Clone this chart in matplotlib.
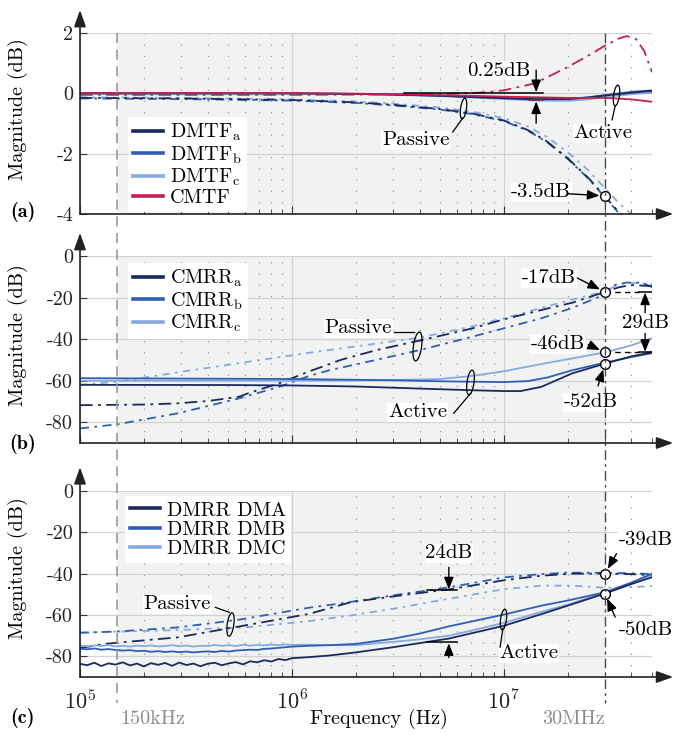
import numpy as np
import matplotlib
matplotlib.use("Agg")
import matplotlib.pyplot as plt
from matplotlib.lines import Line2D
from matplotlib.path import Path
from matplotlib.transforms import Affine2D, blended_transform_factory
from matplotlib.ticker import LogLocator, NullFormatter, FixedLocator

plt.rcParams.update({
    "font.family": "cmr10",
    "mathtext.fontset": "cm",
    "axes.unicode_minus": False,
    "font.size": 14.5,
})

# ---------------- data ----------------
# panel (a): transfer functions (dB)
fa_act = [1e5, 1e6, 2e6, 3e6, 5e6, 7e6, 1e7, 1.4e7, 2e7, 2.5e7, 3e7, 4e7, 5e7]
dmtf_a_act = [0.0, 0.0, -0.02, -0.04, -0.08, -0.12, -0.16, -0.19, -0.19, -0.14, -0.07, 0.02, 0.08]
dmtf_b_act = [0.0, 0.0, -0.02, -0.04, -0.08, -0.12, -0.16, -0.20, -0.19, -0.13, -0.06, 0.05, 0.10]
dmtf_c_act = [0.0, 0.0, -0.02, -0.05, -0.09, -0.14, -0.19, -0.24, -0.25, -0.20, -0.12, -0.03, 0.02]
cmtf_act = [0.0, 0.0, -0.01, -0.03, -0.06, -0.08, -0.11, -0.13, -0.15, -0.15, -0.15, -0.20, -0.28]

fa_pas = [1e5, 3e5, 1e6, 2e6, 3e6, 5e6, 7e6, 1e7, 1.3e7, 1.6e7, 2e7, 2.5e7, 3e7, 3.5e7, 4e7, 4.5e7]
dmtf_a_pas = [-0.15, -0.17, -0.22, -0.30, -0.38, -0.52, -0.66, -0.90, -1.22, -1.60, -2.15, -2.80, -3.42, -3.95, -4.30, -4.60]
dmtf_b_pas = [-0.17, -0.19, -0.24, -0.32, -0.40, -0.54, -0.68, -0.92, -1.24, -1.62, -2.17, -2.82, -3.45, -3.98, -4.35, -4.60]
dmtf_c_pas = [-0.13, -0.15, -0.20, -0.27, -0.34, -0.47, -0.60, -0.82, -1.10, -1.45, -1.95, -2.55, -3.15, -3.65, -4.00, -4.30]
fa_cm_pas = [1e5, 1e6, 5e6, 8e6, 1e7, 1.4e7, 2e7, 2.5e7, 3e7, 3.5e7, 3.8e7, 4.2e7, 4.6e7, 5e7]
cmtf_pas = [-0.05, -0.05, -0.03, 0.03, 0.10, 0.33, 0.87, 1.25, 1.58, 1.82, 1.90, 1.80, 1.40, 0.70]

# panel (b): CMRR (dB)
fb_a_act = [1e5, 5e5, 1e6, 2e6, 4e6, 7e6, 1e7, 1.2e7, 1.5e7, 2.1e7, 3e7, 4e7, 5e7]
cmrr_a_act = [-62, -62.1, -62.3, -62.8, -63.8, -64.6, -65, -65, -63, -56.5, -51.8, -48.3, -46.3]
fb_b_act = [1e5, 1e6, 3e6, 5e6, 1e7, 1.3e7, 1.6e7, 2.1e7, 3e7, 4e7, 5e7]
cmrr_b_act = [-58.8, -59.2, -59.8, -60.3, -60.7, -60.2, -58.5, -55, -51.3, -48.6, -46.8]
fb_c_act = [1e5, 1e6, 3e6, 5e6, 7e6, 1e7, 1.5e7, 2.1e7, 3e7, 4e7, 5e7]
cmrr_c_act = [-60, -60, -59.7, -59.2, -57.8, -55.5, -52, -49.3, -46.4, -43, -39.5]

fb_a_pas = [1e5, 2e5, 2.9e5, 4e5, 5.6e5, 6.4e5, 8.7e5, 1.16e6, 1.7e6, 2.5e6, 4e6, 7e6, 1e7, 1.5e7, 2.1e7, 3e7, 3.5e7, 4e7, 5e7]
cmrr_a_pas = [-71.8, -71.5, -70.9, -69.8, -67.8, -65.6, -61.3, -56.2, -50, -45.3, -40.7, -35, -30.5, -26, -22.5, -17.3, -15, -14, -14.5]
fb_b_pas = [1e5, 1.5e5, 2.9e5, 5.6e5, 8.7e5, 1.2e6, 1.5e6, 2.5e6, 4e6, 7e6, 1.07e7, 1.5e7, 2.1e7, 3e7, 3.3e7, 3.8e7, 4.5e7, 5e7]
cmrr_b_pas = [-83, -81, -75.7, -68.6, -63, -57.8, -55, -50, -45.3, -39, -34, -30, -25, -18.5, -14, -12.8, -12.8, -15]
fb_c_pas = [1e5, 1.5e5, 2.9e5, 5.6e5, 1.2e6, 2e6, 4e6, 7e6, 1e7, 1.5e7, 2.1e7, 3e7, 3.5e7, 4e7, 5e7]
cmrr_c_pas = [-62, -60.5, -56, -51.6, -46.6, -43.5, -39.3, -34, -30, -25, -21, -17, -13.5, -13, -13.5]

# panel (c): DMRR (dB)
fc_act = [1.0e5, 1.08e5, 1.17e5, 1.26e5, 1.36e5, 1.47e5, 1.59e5, 1.72e5, 1.86e5, 2.0e5,
          2.16e5, 2.34e5, 2.52e5, 2.72e5, 2.94e5, 3.18e5, 3.43e5, 3.7e5, 4.0e5, 4.32e5,
          4.67e5, 5.04e5, 5.44e5, 5.88e5, 6.35e5, 6.86e5, 7.4e5, 8.0e5, 8.64e5, 9.33e5,
          1.0e6, 1.2e6, 1.5e6, 2e6, 3e6, 4e6, 5.5e6, 7e6, 1e7, 1.5e7, 2e7, 3e7, 4e7, 5e7]
dmrr_a_act = [-83.6, -84.3, -83.1, -84.7, -83.4, -84.0, -82.9, -84.4, -83.5, -84.9,
              -83.3, -84.1, -83.2, -84.6, -83.0, -84.2, -83.5, -84.8, -83.6, -83.1,
              -84.3, -83.4, -82.8, -83.9, -82.4, -82.9, -81.9, -82.5, -81.3, -81.8,
              -80.9, -80.4, -79.6, -78.1, -75.6, -73.6, -71.4, -68.9, -65.2, -59.6, -55.5, -49.6, -45.0, -41.7]
dmrr_b_act = [-76.3, -76.6, -76.2, -76.8, -76.5, -76.9, -77.2, -77.0, -77.5, -77.3,
              -77.8, -77.5, -77.9, -77.6, -78.0, -77.7, -78.1, -77.8, -77.6, -77.9,
              -77.4, -77.7, -77.2, -77.0, -76.8, -76.9, -76.4, -76.2, -75.9, -75.6,
              -75.3, -74.9, -74.6, -74.0, -71.5, -69.0, -65.5, -63.2, -59.8, -55.5, -53.0, -49.0, -44.3, -40.0]
dmrr_c_act = [-74.8, -75.1, -74.7, -75.0, -74.6, -75.2, -74.9, -75.3, -74.8, -75.1,
              -74.7, -75.2, -75.0, -74.6, -75.1, -74.8, -75.3, -74.9, -75.0, -74.5,
              -74.9, -74.6, -75.0, -74.4, -74.8, -74.5, -74.7, -74.3, -74.6, -74.2,
              -74.5, -74.4, -74.6, -74.6, -73.0, -71.8, -70.0, -67.6, -63.8, -58.5, -55.0, -49.2, -44.5, -40.5]

fc_a_pas = [1e5, 1.3e5, 2.9e5, 5.6e5, 1.2e6, 1.9e6, 3e6, 5.6e6, 1e7, 1.5e7, 2.1e7, 3e7, 4e7, 5e7]
dmrr_a_pas = [-76, -74, -70.8, -65.6, -59.5, -53.8, -51, -47.5, -43.2, -41, -40, -40, -40.2, -40.8]
fc_b_pas = [1e5, 1.5e5, 2.9e5, 5.6e5, 1.2e6, 1.7e6, 3e6, 5.6e6, 1e7, 1.5e7, 2e7, 3e7, 4e7, 5e7]
dmrr_b_pas = [-68.6, -68, -66, -62.3, -56.5, -54.4, -50.5, -46.5, -41.8, -40.2, -39.5, -39.6, -39.8, -40.2]
fc_c_pas = [1e5, 2.9e5, 6.4e5, 1.2e6, 1.9e6, 3e6, 5.6e6, 1e7, 1.5e7, 2.1e7, 3e7, 4e7, 5e7]
dmrr_c_pas = [-68.5, -67.3, -65.8, -63, -60.2, -57, -52, -47.5, -45.8, -45.8, -46.8, -46.5, -46]

labels_a = ["DMTF$_\\mathrm{a}$", "DMTF$_\\mathrm{b}$", "DMTF$_\\mathrm{c}$", "CMTF"]
labels_b = ["CMRR$_\\mathrm{a}$", "CMRR$_\\mathrm{b}$", "CMRR$_\\mathrm{c}$"]
labels_c = ["DMRR DMA", "DMRR DMB", "DMRR DMC"]

# ---------------- style ----------------
C_A, C_B, C_C, C_R = "#1b2a5c", "#2f5fb5", "#85a9e0", "#c81e50"
LS_A = (0, (7, 3, 1.5, 3))
LS_B = (0, (5, 3, 1.5, 3))
LS_C = (0, (4, 3, 1.5, 3))
LW = 1.3

W, H = 673, 734
fig = plt.figure(figsize=(W / 100, H / 100), dpi=100)

def fx(px):
    return px / W

def fy(py):
    return 1 - py / H

left, width = fx(80), 572 / W
ax_a = fig.add_axes([left, fy(214), width, 181 / H])
ax_b = fig.add_axes([left, fy(443), width, 187 / H])
ax_c = fig.add_axes([left, fy(677), width, 186 / H])

def style(ax, ylim, yticks, ylabels, up_ext):
    ax.set_xscale("log")
    ax.set_xlim(1e5, 5e7)
    ax.set_ylim(*ylim)
    ax.axvspan(1.5e5, 3e7, color="#f1f3f3", zorder=0, lw=0)
    ax.set_yticks(yticks)
    ax.set_yticklabels(ylabels)
    ax.xaxis.set_major_locator(FixedLocator([1e5, 1e6, 1e7]))
    ax.xaxis.set_minor_locator(LogLocator(base=10, subs=range(2, 10), numticks=20))
    ax.xaxis.set_minor_formatter(NullFormatter())
    ax.grid(True, which="major", color="#d2d2d2", lw=0.9)
    ax.grid(True, which="minor", axis="x", color="#9a9a9a", lw=0.9, ls=(0, (1, 8)))
    ax.set_axisbelow(True)
    for s in ax.spines.values():
        s.set_visible(False)
    ax.tick_params(axis="both", which="major", direction="in", colors="#333333",
                   labelcolor="#222222", labelsize=14.5)
    ax.tick_params(axis="y", length=5, pad=5)
    ax.tick_params(axis="x", which="major", length=6, pad=9)
    ax.tick_params(axis="x", which="minor", direction="in", length=3.5, color="#333333")
    ap = dict(arrowstyle="-|>,head_length=0.7,head_width=0.25", lw=1.2, color="#222222",
              shrinkA=0, shrinkB=0)
    ax.annotate("", xy=(0, 1 + up_ext), xytext=(0, 0), xycoords="axes fraction",
                textcoords="axes fraction", arrowprops=ap, annotation_clip=False)
    ax.annotate("", xy=(1.037, 0), xytext=(0, 0), xycoords="axes fraction",
                textcoords="axes fraction", arrowprops=ap, annotation_clip=False)

style(ax_a, (-4, 2), [-4, -2, 0, 2], ["-4", "-2", "0", "2"], 0.127)
style(ax_b, (-90, 0), [-80, -60, -40, -20, 0], ["-80", "-60", "-40", "-20", "0"], 0.123)
style(ax_c, (-90, 0), [-80, -60, -40, -20, 0], ["-80", "-60", "-40", "-20", "0"], 0.128)
for ax in (ax_a, ax_b):
    ax.set_xticklabels([])
ax_c.set_xticklabels(["$10^{5}$", "$10^{6}$", "$10^{7}$"])
for t in ax_c.get_xticklabels():
    t.set_fontsize(16)

# ---------------- curves ----------------
# (a)
ax_a.plot(fa_pas, dmtf_c_pas, color=C_C, ls=LS_C, lw=LW)
ax_a.plot(fa_pas, dmtf_b_pas, color=C_B, ls=LS_B, lw=LW)
ax_a.plot(fa_pas, dmtf_a_pas, color=C_A, ls=LS_A, lw=LW)
ax_a.plot(fa_cm_pas, cmtf_pas, color=C_R, ls=LS_A, lw=LW)
ax_a.plot(fa_act, dmtf_c_act, color=C_C, lw=LW)
ax_a.plot(fa_act, dmtf_b_act, color=C_B, lw=LW)
ax_a.plot(fa_act, dmtf_a_act, color=C_A, lw=LW)
ax_a.plot(fa_act, cmtf_act, color=C_R, lw=LW)

# (b)
ax_b.plot(fb_c_pas, cmrr_c_pas, color=C_C, ls=LS_C, lw=LW)
ax_b.plot(fb_b_pas, cmrr_b_pas, color=C_B, ls=LS_B, lw=LW)
ax_b.plot(fb_a_pas, cmrr_a_pas, color=C_A, ls=LS_A, lw=LW)
ax_b.plot(fb_c_act, cmrr_c_act, color=C_C, lw=LW)
ax_b.plot(fb_b_act, cmrr_b_act, color=C_B, lw=LW)
ax_b.plot(fb_a_act, cmrr_a_act, color=C_A, lw=LW)

# (c)
ax_c.plot(fc_c_pas, dmrr_c_pas, color=C_C, ls=LS_C, lw=LW)
ax_c.plot(fc_b_pas, dmrr_b_pas, color=C_B, ls=LS_B, lw=LW)
ax_c.plot(fc_a_pas, dmrr_a_pas, color=C_A, ls=LS_A, lw=LW)
ax_c.plot(fc_act, dmrr_c_act, color=C_C, lw=LW)
ax_c.plot(fc_act, dmrr_b_act, color=C_B, lw=LW)
ax_c.plot(fc_act, dmrr_a_act, color=C_A, lw=LW)

# ---------------- legends ----------------
def legend(ax, labels, colors, anchor):
    hs = [Line2D([], [], color=c, lw=2.6) for c in colors]
    lg = ax.legend(hs, labels, loc="upper left", bbox_to_anchor=anchor, fontsize=14.5,
                   frameon=True, fancybox=False, edgecolor="none", facecolor="white",
                   framealpha=1, handlelength=1.5, handletextpad=0.35, labelspacing=0.05,
                   borderpad=0.25, borderaxespad=0)
    lg.set_zorder(5)

legend(ax_a, labels_a, [C_A, C_B, C_C, C_R], (48 / 572, 0.536))
legend(ax_b, labels_b, [C_A, C_B, C_C], (48 / 572, 0.963))
legend(ax_c, labels_c, [C_A, C_B, C_C], (45 / 572, 0.971))

# ---------------- annotations ----------------
TB = dict(fc="white", ec="none", pad=0.5)
AP = dict(arrowstyle="-|>,head_length=0.5,head_width=0.2", lw=1.0, color="k",
          shrinkA=0, shrinkB=0)
APc = dict(AP, shrinkB=4)
ell = Path.unit_circle().transformed(Affine2D().scale(0.28, 1).rotate_deg(-8))

def brace(ax, x, y, ms):
    ax.plot([x], [y], marker=ell, ms=ms, mfc="none", mec="k", mew=0.9, ls="none", zorder=6)

def circ(ax, x, y):
    ax.plot([x], [y], marker="o", ms=7, mfc="white", mec="k", mew=1.0, ls="none", zorder=7)

def arrow(ax, xy, xytext, props=AP):
    ax.annotate("", xy=xy, xytext=xytext, arrowprops=props, annotation_clip=False, zorder=7)

def txt(ax, x, y, s, **kw):
    ax.text(x, y, s, ha="center", va="center", fontsize=15, bbox=TB, zorder=6,
            clip_on=False, **kw)

# (a)
ax_a.plot([3.37e6, 1.53e7], [0.0, 0.0], color="k", lw=1.1, zorder=6)
ax_a.plot([1.31e7, 1.53e7], [-0.22, -0.22], color="#444444", lw=1.1, zorder=6)
txt(ax_a, 9.5e6, 0.75, "0.25dB")
arrow(ax_a, (1.42e7, 0.04), (1.42e7, 0.77))
arrow(ax_a, (1.42e7, -0.27), (1.42e7, -0.99))
txt(ax_a, 3.84e6, -1.55, "Passive")
ax_a.plot([5.74e6, 6.4e6], [-1.28, -0.82], color="k", lw=0.9, zorder=6)
brace(ax_a, 6.4e6, -0.5, 15)
txt(ax_a, 2.94e7, -1.32, "Active")
ax_a.plot([3.24e7, 3.35e7], [-0.88, -0.42], color="k", lw=0.9, zorder=6)
brace(ax_a, 3.39e7, -0.06, 15)
txt(ax_a, 1.5e7, -3.28, "-3.5dB")
circ(ax_a, 3e7, -3.4)
arrow(ax_a, (3e7, -3.4), (2.02e7, -3.33), APc)

# (b)
txt(ax_b, 2.06e6, -34.7, "Passive")
ax_b.plot([3.02e6, 3.75e6], [-36.6, -36.6], color="k", lw=0.9, zorder=6)
brace(ax_b, 3.88e6, -43.4, 21)
txt(ax_b, 3.92e6, -75.2, "Active")
ax_b.plot([5.8e6, 6.98e6], [-75.7, -66.0], color="k", lw=0.9, zorder=6)
brace(ax_b, 6.9e6, -60.7, 18)
circ(ax_b, 3e7, -17.3)
circ(ax_b, 3e7, -46.4)
circ(ax_b, 3e7, -52.0)
txt(ax_b, 1.63e7, -10.6, "-17dB")
arrow(ax_b, (3e7, -17.3), (2.22e7, -10.6), APc)
txt(ax_b, 1.8e7, -42.4, "-46dB")
arrow(ax_b, (3e7, -46.4), (2.5e7, -42.6), APc)
txt(ax_b, 2.58e7, -70.4, "-52dB")
arrow(ax_b, (3e7, -52.0), (2.78e7, -62.5), APc)
ax_b.plot([3e7, 4.35e7], [-17.3, -17.3], color="k", lw=1.0, ls=(0, (4, 3)), zorder=6)
ax_b.plot([4.35e7, 5e7], [-17.3, -17.3], color="k", lw=1.1, zorder=6)
ax_b.plot([3e7, 4.35e7], [-46.4, -46.4], color="k", lw=1.0, ls=(0, (4, 3)), zorder=6)
ax_b.plot([4.35e7, 5e7], [-46.4, -46.4], color="k", lw=1.1, zorder=6)
txt(ax_b, 4.64e7, -32.3, "29dB")
arrow(ax_b, (4.64e7, -17.6), (4.64e7, -27.3))
arrow(ax_b, (4.64e7, -46.1), (4.64e7, -37.3))

# (c)
txt(ax_c, 2.88e5, -54.9, "Passive")
ax_c.plot([4.35e5, 5.06e5], [-56.3, -58.7], color="k", lw=0.9, zorder=6)
brace(ax_c, 5.1e5, -64.2, 17)
ax_c.plot([4.36e6, 6.0e6], [-48.0, -48.0], color="k", lw=1.1, zorder=6)
ax_c.plot([4.36e6, 6.0e6], [-73.3, -73.3], color="k", lw=1.1, zorder=6)
txt(ax_c, 5.5e6, -30.1, "24dB")
arrow(ax_c, (5.5e6, -47.6), (5.5e6, -36.9))
arrow(ax_c, (5.5e6, -73.7), (5.5e6, -80.6))
txt(ax_c, 1.31e7, -78.6, "Active")
ax_c.plot([9.9e6, 9.6e6], [-66.5, -75.5], color="k", lw=0.9, zorder=6)
brace(ax_c, 9.9e6, -61.7, 15)
circ(ax_c, 3e7, -40.0)
circ(ax_c, 3e7, -49.6)
txt(ax_c, 4.69e7, -23.8, "-39dB")
arrow(ax_c, (3e7, -40.0), (3.4e7, -30.3), APc)
txt(ax_c, 4.69e7, -67.5, "-50dB")
arrow(ax_c, (3e7, -49.6), (3.35e7, -61.0), APc)

# ---------------- frame texts / limit lines ----------------
tr = blended_transform_factory(ax_c.transData, fig.transFigure)
fig.add_artist(Line2D([1.5e5, 1.5e5], [fy(33), fy(703)], transform=tr, color="#9a9a9a",
                      lw=1.2, ls=(0, (6, 4))))
fig.add_artist(Line2D([3e7, 3e7], [fy(33), fy(703)], transform=tr, color="#4a4a4a",
                      lw=1.0, ls=(0, (7, 3, 2, 3))))

fig.text(1.55e5, fy(719), "150kHz", transform=tr, ha="left", va="center", color="#8c8c8c",
         fontsize=14.5)
fig.text(3e7, fy(719), "30MHz", transform=tr, ha="right", va="center", color="#8c8c8c",
         fontsize=14.5)
fig.text(2.56e6, fy(719), "Frequency (Hz)", transform=tr, ha="center", va="center",
         fontsize=14.5)

for yc in (109, 335, 568):
    fig.text(fx(18), fy(yc), "Magnitude (dB)", rotation=90, ha="center", va="center",
             fontsize=14.5)
for lab, yc in (("(a)", 212), ("(b)", 444), ("(c)", 718)):
    fig.text(fx(23), fy(yc), lab, ha="center", va="center", fontsize=14.5, family="cmb10")

fig.savefig("out.png", dpi=100)
